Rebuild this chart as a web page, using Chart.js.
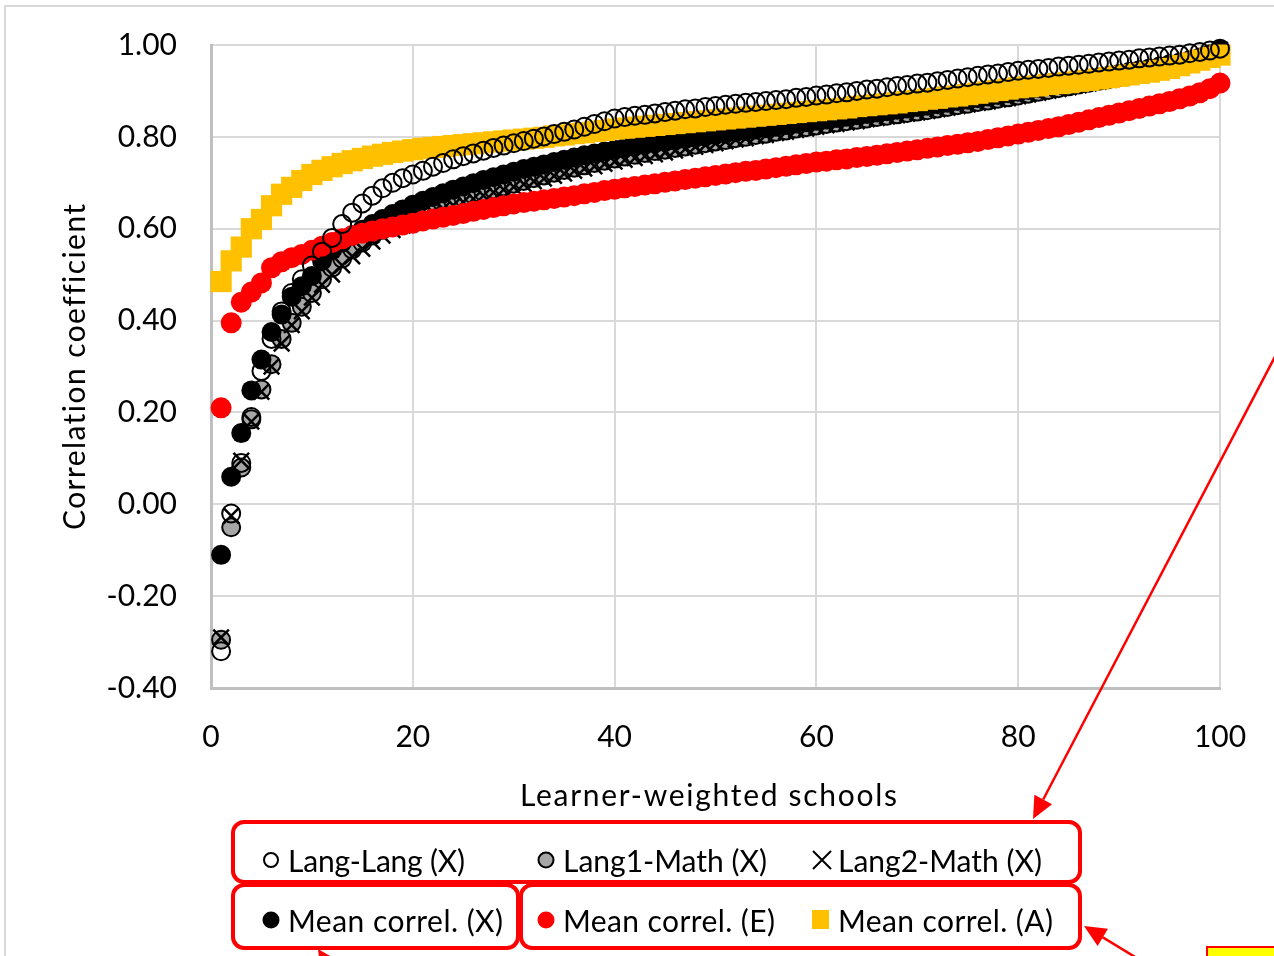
<!DOCTYPE html>
<html><head><meta charset="utf-8">
<script src="https://cdn.jsdelivr.net/npm/chart.js@4.4.1/dist/chart.umd.min.js"></script>
<style>html,body{margin:0;padding:0;background:#fff;}canvas{display:block;}</style>
</head><body>
<canvas id="c" width="1274" height="956"></canvas>
<script>
const schools = [1,2,3,4,5,6,7,8,9,10,11,12,13,14,15,16,17,18,19,20,21,22,23,24,25,26,27,28,29,30,31,32,33,34,35,36,37,38,39,40,41,42,43,44,45,46,47,48,49,50,51,52,53,54,55,56,57,58,59,60,61,62,63,64,65,66,67,68,69,70,71,72,73,74,75,76,77,78,79,80,81,82,83,84,85,86,87,88,89,90,91,92,93,94,95,96,97,98,99,100];

const langLang = [-0.32,-0.02,0.09,0.19,0.29,0.36,0.42,0.46,0.49,0.52,
0.55,0.58,0.61,0.635,0.655,0.672,0.688,0.7,0.71,0.718,
0.726,0.735,0.743,0.751,0.758,0.764,0.77,0.776,0.781,0.786,
0.791,0.796,0.801,0.806,0.811,0.816,0.822,0.828,0.834,0.84,
0.843,0.846,0.848,0.851,0.854,0.857,0.86,0.862,0.865,0.867,
0.87,0.872,0.874,0.876,0.878,0.88,0.882,0.885,0.887,0.89,
0.892,0.895,0.897,0.9,0.903,0.905,0.908,0.911,0.913,0.916,
0.918,0.921,0.924,0.927,0.93,0.933,0.936,0.938,0.941,0.944,
0.946,0.948,0.95,0.953,0.955,0.957,0.959,0.962,0.964,0.966,
0.968,0.971,0.973,0.975,0.977,0.979,0.982,0.985,0.988,0.992];

const lang1Math = [-0.295,-0.05,0.08,0.185,0.25,0.305,0.36,0.395,0.43,0.46,
0.49,0.515,0.535,0.555,0.57,0.585,0.598,0.61,0.62,0.63,
0.638,0.646,0.654,0.661,0.668,0.674,0.68,0.686,0.692,0.698,
0.704,0.71,0.716,0.722,0.728,0.733,0.738,0.743,0.748,0.753,
0.757,0.761,0.765,0.769,0.772,0.776,0.779,0.783,0.786,0.79,
0.793,0.797,0.8,0.804,0.807,0.811,0.814,0.818,0.821,0.825,
0.828,0.831,0.834,0.837,0.84,0.843,0.846,0.849,0.852,0.855,
0.858,0.862,0.865,0.869,0.872,0.876,0.879,0.883,0.886,0.89,
0.894,0.898,0.902,0.906,0.91,0.914,0.918,0.922,0.926,0.93,
0.934,0.938,0.943,0.948,0.953,0.958,0.964,0.97,0.978,0.988];

const lang2Math = [-0.29,-0.025,0.095,0.18,0.245,0.3,0.35,0.39,0.42,0.45,
0.478,0.5,0.52,0.54,0.556,0.572,0.585,0.597,0.607,0.617,
0.626,0.635,0.643,0.651,0.658,0.665,0.672,0.679,0.685,0.691,
0.697,0.703,0.709,0.715,0.72,0.726,0.731,0.736,0.741,0.746,
0.75,0.754,0.758,0.762,0.766,0.77,0.774,0.778,0.782,0.786,
0.79,0.794,0.797,0.801,0.804,0.808,0.811,0.815,0.818,0.822,
0.825,0.828,0.831,0.834,0.838,0.841,0.844,0.847,0.85,0.853,
0.856,0.86,0.863,0.867,0.87,0.874,0.877,0.881,0.884,0.888,
0.892,0.896,0.9,0.904,0.908,0.912,0.916,0.92,0.924,0.928,
0.932,0.937,0.942,0.947,0.952,0.958,0.964,0.971,0.979,0.99];

const meanX = [-0.11,0.06,0.155,0.248,0.315,0.375,0.413,0.452,0.475,0.497,
0.53,0.553,0.57,0.585,0.598,0.61,0.621,0.632,0.642,0.652,
0.661,0.669,0.677,0.685,0.692,0.699,0.706,0.712,0.718,0.724,
0.73,0.735,0.74,0.745,0.75,0.755,0.76,0.764,0.768,0.772,
0.776,0.779,0.783,0.786,0.789,0.792,0.795,0.798,0.801,0.804,
0.807,0.81,0.813,0.816,0.819,0.822,0.826,0.829,0.832,0.835,
0.838,0.841,0.844,0.847,0.85,0.853,0.856,0.859,0.862,0.865,
0.868,0.871,0.874,0.878,0.881,0.884,0.888,0.891,0.895,0.898,
0.902,0.906,0.91,0.913,0.917,0.921,0.925,0.929,0.933,0.937,
0.941,0.945,0.949,0.953,0.958,0.962,0.967,0.973,0.98,0.99];

const meanE = [0.21,0.395,0.44,0.462,0.482,0.515,0.528,0.537,0.544,0.553,
0.562,0.57,0.578,0.585,0.59,0.595,0.6,0.604,0.608,0.612,
0.617,0.621,0.625,0.629,0.633,0.638,0.642,0.646,0.65,0.654,
0.657,0.66,0.663,0.666,0.669,0.672,0.676,0.679,0.683,0.686,
0.689,0.692,0.695,0.698,0.701,0.704,0.707,0.71,0.713,0.716,
0.719,0.722,0.725,0.727,0.73,0.733,0.736,0.739,0.742,0.745,
0.747,0.75,0.752,0.755,0.757,0.76,0.763,0.766,0.769,0.772,
0.775,0.778,0.781,0.784,0.787,0.79,0.794,0.798,0.802,0.806,
0.81,0.814,0.818,0.822,0.827,0.832,0.837,0.842,0.847,0.852,
0.857,0.862,0.867,0.872,0.877,0.883,0.889,0.896,0.905,0.917];

const meanA = [0.485,0.53,0.56,0.6,0.62,0.65,0.675,0.69,0.705,0.718,
0.727,0.735,0.742,0.748,0.753,0.758,0.762,0.766,0.769,0.772,
0.775,0.777,0.779,0.781,0.783,0.785,0.787,0.789,0.791,0.793,
0.795,0.797,0.799,0.802,0.804,0.807,0.809,0.812,0.814,0.817,
0.819,0.821,0.823,0.825,0.827,0.829,0.831,0.833,0.835,0.837,
0.839,0.841,0.843,0.845,0.847,0.849,0.851,0.853,0.855,0.857,
0.859,0.861,0.863,0.866,0.868,0.87,0.872,0.874,0.877,0.879,
0.882,0.884,0.887,0.889,0.892,0.895,0.898,0.901,0.904,0.907,
0.909,0.911,0.914,0.916,0.918,0.921,0.923,0.926,0.929,0.932,
0.935,0.938,0.941,0.945,0.949,0.955,0.961,0.967,0.973,0.978];

const yTicks = [-0.4,-0.2,0,0.2,0.4,0.6,0.8,1.0];
const xTicks = [0,20,40,60,80,100];
const seriesLabels = ['Lang-Lang (X)','Lang1-Math (X)','Lang2-Math (X)','Mean correl. (X)','Mean correl. (E)','Mean correl. (A)'];
const xTitle = 'Learner-weighted schools';
const yTitle = 'Correlation coefficient';

const FONT = 'Lato, "Open Sans", sans-serif';
const pts = vals => schools.map((s, i) => ({x: s, y: vals[i]}));

function spacedText(ctx, text, x, y, w) {
  ctx.letterSpacing = '0px';
  const nat = ctx.measureText(text).width;
  const ls = (w - nat) / (text.length - 1);
  ctx.letterSpacing = ls.toFixed(2) + 'px';
  ctx.fillText(text, x, y);
  ctx.letterSpacing = '0px';
}

const deco = {
  id: 'deco',
  beforeDraw(chart) {
    const ctx = chart.ctx;
    ctx.save();
    ctx.strokeStyle = '#d9d9d9';
    ctx.lineWidth = 2;
    ctx.strokeRect(5, 6, 1400, 1100);
    ctx.restore();
  },
  afterDraw(chart) {
    const ctx = chart.ctx;
    ctx.save();
    ctx.fillStyle = '#000';
    ctx.font = '30px ' + FONT;
    ctx.textAlign = 'left';
    ctx.textBaseline = 'alphabetic';
    spacedText(ctx, xTitle, 520, 806, 377);
    ctx.save();
    ctx.translate(85, 530);
    ctx.rotate(-Math.PI / 2);
    spacedText(ctx, yTitle, 0, 0, 325);
    ctx.restore();

    ctx.strokeStyle = '#ff0000';
    ctx.lineWidth = 4;
    const boxes = [[233, 822, 847, 60], [233, 885, 285, 63], [521, 885, 559, 63]];
    boxes.forEach(b => { ctx.beginPath(); ctx.roundRect(b[0], b[1], b[2], b[3], 11); ctx.stroke(); });

    ctx.lineWidth = 2;
    ctx.strokeStyle = '#000';
    ctx.beginPath(); ctx.arc(271, 860, 7, 0, Math.PI * 2); ctx.stroke();
    ctx.fillStyle = '#a6a6a6';
    ctx.beginPath(); ctx.arc(546, 860, 7.5, 0, Math.PI * 2); ctx.fill(); ctx.stroke();
    ctx.beginPath(); ctx.moveTo(813, 851); ctx.lineTo(831, 869); ctx.moveTo(831, 851); ctx.lineTo(813, 869); ctx.stroke();
    ctx.fillStyle = '#000';
    ctx.beginPath(); ctx.arc(271, 920, 8.5, 0, Math.PI * 2); ctx.fill();
    ctx.fillStyle = '#ff0000';
    ctx.beginPath(); ctx.arc(546, 920, 8.5, 0, Math.PI * 2); ctx.fill();
    ctx.fillStyle = '#ffc000';
    ctx.fillRect(812, 910, 17, 19);

    ctx.fillStyle = '#000';
    const lx = [[288, 872, 177], [563, 872, 204], [838, 872, 204], [288, 932, 215], [563, 932, 212], [838, 932, 215]];
    seriesLabels.forEach((t, i) => spacedText(ctx, t, lx[i][0], lx[i][1], lx[i][2]));

    ctx.strokeStyle = '#ff0000';
    ctx.fillStyle = '#ff0000';
    ctx.lineWidth = 2.5;
    const arrow = (x1, y1, x2, y2, len, half) => {
      const a = Math.atan2(y2 - y1, x2 - x1);
      const bx = x2 - len * Math.cos(a), by = y2 - len * Math.sin(a);
      ctx.beginPath(); ctx.moveTo(x1, y1); ctx.lineTo(bx, by); ctx.stroke();
      ctx.beginPath();
      ctx.moveTo(x2, y2);
      ctx.lineTo(bx + half * Math.sin(a), by - half * Math.cos(a));
      ctx.lineTo(bx - half * Math.sin(a), by + half * Math.cos(a));
      ctx.closePath(); ctx.fill();
    };
    arrow(1290, 328, 1033, 819, 22, 10);
    arrow(1150, 966, 1084, 926, 22, 10);
    arrow(345, 990, 318, 949, 18, 9);

    ctx.fillStyle = '#ffff00';
    ctx.fillRect(1207, 947, 80, 20);
    ctx.strokeStyle = '#ff0000';
    ctx.lineWidth = 2;
    ctx.strokeRect(1207, 947, 80, 20);
    ctx.restore();
  }
};

new Chart(document.getElementById('c'), {
  type: 'scatter',
  data: {
    datasets: [
      {label: seriesLabels[0], data: pts(langLang), order: 0, pointStyle: 'circle', pointRadius: 9, borderWidth: 2, borderColor: '#000', backgroundColor: 'rgba(0,0,0,0)', clip: false},
      {label: seriesLabels[1], data: pts(lang1Math), order: 5, pointStyle: 'circle', pointRadius: 9, borderWidth: 2, borderColor: '#000', backgroundColor: '#a6a6a6', clip: false},
      {label: seriesLabels[2], data: pts(lang2Math), order: 4, pointStyle: 'crossRot', pointRadius: 11, borderWidth: 2.5, borderColor: '#000', backgroundColor: '#000', clip: false},
      {label: seriesLabels[3], data: pts(meanX), order: 3, pointStyle: 'circle', pointRadius: 10, borderWidth: 0, borderColor: '#000', backgroundColor: '#000', clip: false},
      {label: seriesLabels[4], data: pts(meanE), order: 2, pointStyle: 'circle', pointRadius: 10.5, borderWidth: 0, borderColor: '#ff0000', backgroundColor: '#ff0000', clip: false},
      {label: seriesLabels[5], data: pts(meanA), order: 1, pointStyle: 'rect', pointRadius: 15, borderWidth: 0, borderColor: '#ffc000', backgroundColor: '#ffc000', clip: false}
    ]
  },
  options: {
    responsive: false,
    animation: false,
    events: [],
    layout: {autoPadding: false, padding: {top: 45, right: 54, bottom: 0, left: 0}},
    plugins: {legend: {display: false}, tooltip: {enabled: false}},
    scales: {
      x: {
        type: 'linear', min: 0, max: 100,
        afterBuildTicks: s => { s.ticks = xTicks.map(v => ({value: v})); },
        afterFit: s => { s.height = 268; s.paddingLeft = 0; s.paddingRight = 0; },
        grid: {color: '#d9d9d9', lineWidth: 2, drawTicks: false},
        border: {color: '#bfbfbf', width: 3},
        ticks: {padding: 31, color: '#000', font: {family: FONT, size: 30}, maxRotation: 0, callback: v => String(v)}
      },
      y: {
        type: 'linear', min: -0.4, max: 1.0,
        afterBuildTicks: s => { s.ticks = yTicks.map(v => ({value: v})); },
        afterFit: s => { s.width = 211; s.paddingTop = 0; s.paddingBottom = 0; },
        grid: {color: '#d9d9d9', lineWidth: 2, drawTicks: false},
        border: {color: '#bfbfbf', width: 3},
        ticks: {padding: 34, color: '#000', font: {family: FONT, size: 30}, callback: v => Number(v).toFixed(2)}
      }
    }
  },
  plugins: [deco]
});
</script>
</body></html>
